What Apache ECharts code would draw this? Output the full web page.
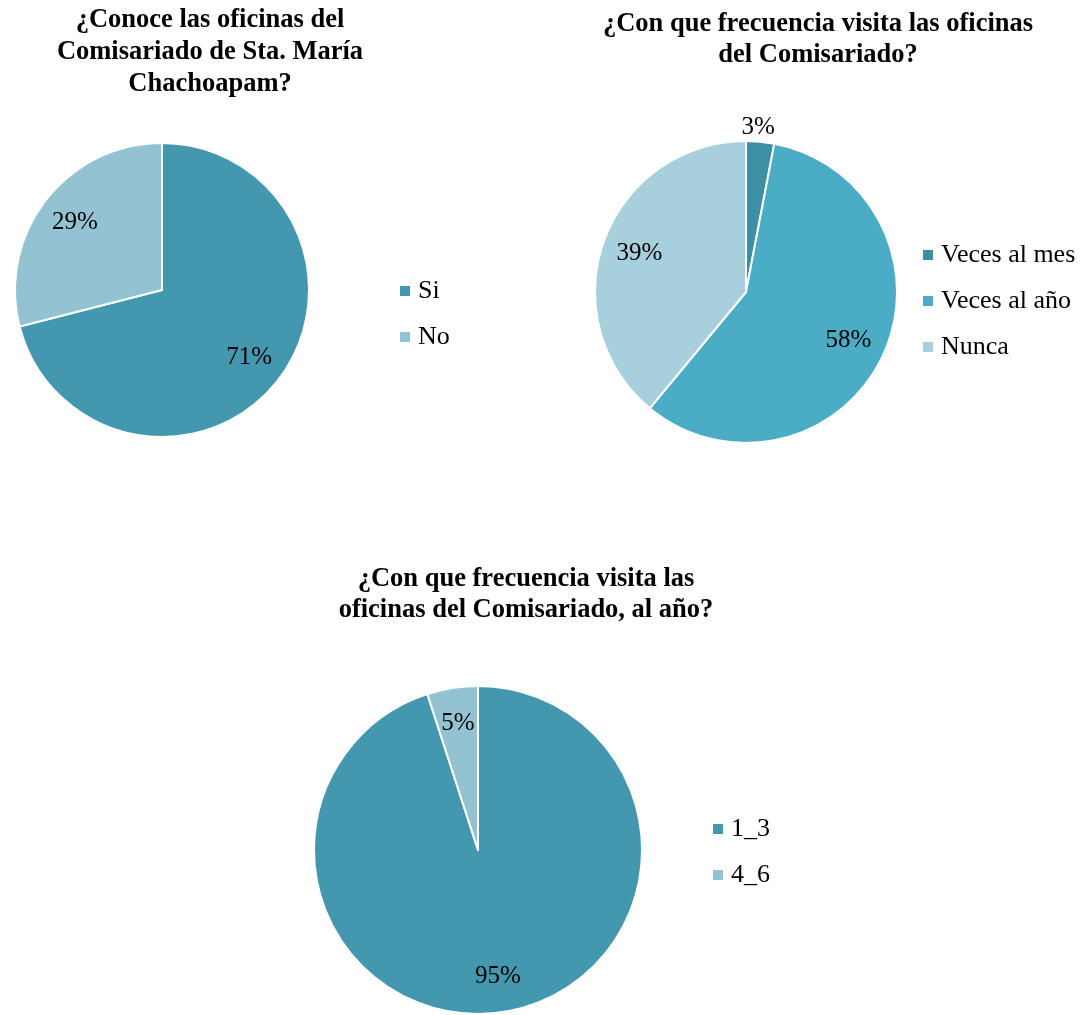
<!DOCTYPE html>
<html>
<head>
<meta charset="utf-8">
<script src="https://cdn.jsdelivr.net/npm/echarts@6/dist/echarts.min.js"></script>
<style>
  html, body { margin: 0; padding: 0; background: #fff; }
  #chart { width: 1086px; height: 1015px; }
</style>
</head>
<body>
<div id="chart"></div>
<script>
// Survey results: three pie charts about the Comisariado offices
const conoceNames = ['Si', 'No'];
const conoceValues = [71, 29];

const frecuenciaNames = ['Veces al mes', 'Veces al año', 'Nunca'];
const frecuenciaValues = [3, 58, 39];

const alAnioNames = ['1_3', '4_6'];
const alAnioValues = [95, 5];

const FONT = '"Liberation Serif", "Times New Roman", serif';

const chart = echarts.init(document.getElementById('chart'), null, { renderer: 'canvas' });

function toData(names, values, colors) {
  return names.map((n, i) => ({ name: n, value: values[i], itemStyle: { color: colors[i] } }));
}

// Solid pie (no labels)
function basePie(names, values, colors, center, r) {
  return {
    type: 'pie',
    center: center,
    radius: [0, r],
    startAngle: 90,
    clockwise: true,
    silent: true,
    label: { show: false },
    labelLine: { show: false },
    itemStyle: { borderColor: '#ffffff', borderWidth: 2 },
    data: toData(names, values, colors)
  };
}

// Transparent ring carrying the percentage labels at ~3/4 of the radius
function labelRing(names, values, center, r, inner, extra) {
  const data = names.map((n, i) => {
    const item = { name: n, value: values[i] };
    if (extra && extra[i]) Object.assign(item, extra[i]);
    return item;
  });
  return {
    type: 'pie',
    center: center,
    radius: [r * inner, r],
    startAngle: 90,
    clockwise: true,
    silent: true,
    itemStyle: { color: 'rgba(0,0,0,0)', borderWidth: 0 },
    label: {
      show: true,
      position: 'inside',
      formatter: '{c}%',
      fontFamily: FONT,
      fontSize: 25,
      color: '#000'
    },
    labelLine: { show: false },
    data: data
  };
}

const c1 = ['#4397AF', '#93C3D3'];
const c2 = ['#3E8FA3', '#4BACC6', '#A8CFDC'];
const c3 = ['#4397AF', '#93C3D3'];

const legendText = { fontFamily: FONT, fontSize: 26, color: '#000', lineHeight: 24, padding: [0, 0, 0, 2] };

function legend(names, left, top, gap) {
  return {
    data: names,
    orient: 'vertical',
    left: left,
    top: top,
    padding: 0,
    icon: 'rect',
    itemWidth: 12,
    itemHeight: 12,
    itemGap: gap,
    selectedMode: false,
    textStyle: legendText
  };
}

function titleText(text, x, y, lh) {
  return {
    type: 'text',
    x: x,
    y: y,
    silent: true,
    style: {
      text: text,
      fill: '#000',
      fontFamily: FONT,
      fontSize: 26.5,
      fontWeight: 'bold',
      lineHeight: lh,
      textAlign: 'center',
      textVerticalAlign: 'top'
    }
  };
}

const frecuenciaRing = labelRing(frecuenciaNames, frecuenciaValues, [746, 292], 151, 0.46, [
  { label: { position: 'outside' }, labelLine: { show: false, length: 14, length2: 0 } }
]);
// pull the small outside label back over its slice
frecuenciaRing.labelLayout = function (p) {
  return p.dataIndex === 0 ? { dx: -25 } : {};
};

const option = {
  backgroundColor: '#ffffff',
  animation: false,
  graphic: [
    titleText('¿Conoce las oficinas del\nComisariado de Sta. María\nChachoapam?', 210, 4, 32),
    titleText('¿Con que frecuencia visita las oficinas\ndel Comisariado?', 818, 9, 31),
    titleText('¿Con que frecuencia visita las\noficinas del Comisariado, al año?', 526, 564, 31)
  ],
  legend: [
    legend(conoceNames, 398, 278, 20),
    legend(frecuenciaNames, 921, 242, 20),
    legend(alAnioNames, 711, 816, 20)
  ],
  series: [
    basePie(conoceNames, conoceValues, c1, [162, 290], 147),
    basePie(frecuenciaNames, frecuenciaValues, c2, [746, 292], 151),
    basePie(alAnioNames, alAnioValues, c3, [478, 850], 164),
    labelRing(conoceNames, conoceValues, [162, 290], 147, 0.46),
    frecuenciaRing,
    labelRing(alAnioNames, alAnioValues, [478, 850], 164, 0.52)
  ]
};

chart.setOption(option);
</script>
</body>
</html>
